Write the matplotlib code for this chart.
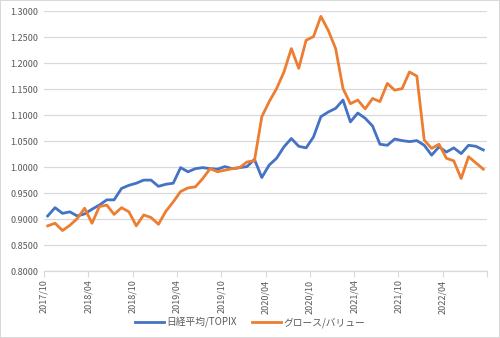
import matplotlib
matplotlib.use("Agg")
import matplotlib.pyplot as plt
import numpy as np

plt.rcParams["font.family"] = ["Noto Sans CJK JP", "DejaVu Sans"]

# monthly ratios, 2017/10 .. 2022/09
months = [f"{2017 + (9 + i) // 12}/{(9 + i) % 12 + 1:02d}" for i in range(60)]

nikkei_topix = [
    0.906, 0.922, 0.911, 0.914, 0.906, 0.910, 0.919, 0.927, 0.937, 0.937,
    0.959, 0.965, 0.969, 0.975, 0.975, 0.963, 0.967, 0.969, 0.999, 0.991,
    0.997, 0.999, 0.997, 0.996, 1.001, 0.997, 0.999, 1.001, 1.015, 0.980,
    1.004, 1.017, 1.039, 1.055, 1.040, 1.037, 1.058, 1.097, 1.106, 1.113,
    1.129, 1.087, 1.104, 1.094, 1.079, 1.044, 1.042, 1.054, 1.051, 1.049,
    1.051, 1.042, 1.023, 1.039, 1.029, 1.037, 1.026, 1.042, 1.040, 1.033,
]
growth_value = [
    0.887, 0.892, 0.878, 0.888, 0.901, 0.921, 0.892, 0.924, 0.927, 0.909,
    0.922, 0.914, 0.887, 0.908, 0.903, 0.890, 0.915, 0.933, 0.953, 0.960,
    0.962, 0.978, 0.997, 0.991, 0.994, 0.997, 0.999, 1.010, 1.012, 1.097,
    1.126, 1.151, 1.183, 1.228, 1.190, 1.244, 1.251, 1.290, 1.263, 1.228,
    1.151, 1.122, 1.129, 1.112, 1.132, 1.126, 1.161, 1.148, 1.151, 1.183,
    1.175, 1.052, 1.036, 1.044, 1.017, 1.012, 0.978, 1.020, 1.008, 0.996,
]
series_names = ["日経平均/TOPIX", "グロース/バリュー"]
series_colors = ["#4472C4", "#ED7D31"]

text_color = "#595959"
grid_color = "#d9d9d9"

fig = plt.figure(figsize=(5, 3.38), dpi=100)
fig.patch.set_edgecolor(grid_color)
fig.patch.set_linewidth(1.2)
ax = fig.add_axes([0.088, 0.198, 0.886, 0.769])

x = np.arange(len(months)) + 0.5
for values, name, color in zip([nikkei_topix, growth_value], series_names, series_colors):
    ax.plot(x, values, color=color, linewidth=2.0, label=name, solid_joinstyle="round")

ax.set_xlim(0, len(months))
ax.set_ylim(0.8, 1.3)
ax.set_yticks(np.arange(0.8, 1.3001, 0.05))
ax.yaxis.set_major_formatter(matplotlib.ticker.FormatStrFormatter("%.4f"))
ax.grid(axis="y", color=grid_color, linewidth=0.9)
ax.set_axisbelow(True)

tick_pos = np.arange(0, len(months) + 1, 6)
ax.set_xticks(tick_pos)
ax.set_xticklabels([months[i] if i < len(months) else "" for i in tick_pos],
                   rotation=90, fontsize=6.5, color=text_color)
ax.tick_params(axis="x", length=4, color=grid_color, pad=2)
ax.tick_params(axis="y", length=0, labelsize=6.5, labelcolor=text_color, pad=4)

for side in ["top", "right", "left"]:
    ax.spines[side].set_visible(False)
ax.spines["bottom"].set_color(grid_color)
ax.spines["bottom"].set_linewidth(0.9)

fig.legend(loc="center", bbox_to_anchor=(0.5, 0.045), ncol=2, frameon=False,
           fontsize=7, labelcolor=text_color, handlelength=3.0, columnspacing=1.5,
           handletextpad=0.3)

fig.savefig("out.png", dpi=100, edgecolor=fig.get_edgecolor())
